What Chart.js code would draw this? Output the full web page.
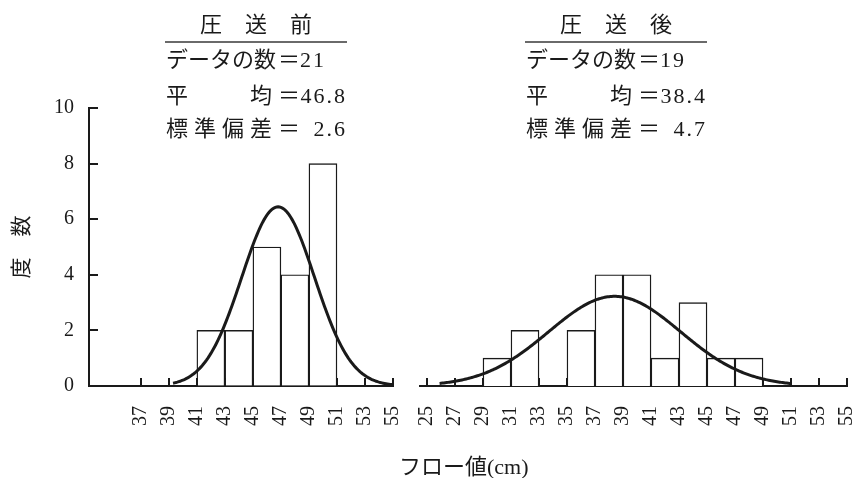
<!DOCTYPE html>
<html lang="ja">
<head>
<meta charset="utf-8">
<title>フロー値の度数分布（圧送前・圧送後）</title>
<script src="https://cdn.jsdelivr.net/npm/chart.js@4.4.1/dist/chart.umd.min.js"></script>
<style>
  html, body { margin: 0; padding: 0; background: #fff; }
  #page { position: relative; width: 856px; height: 478px; overflow: hidden; background: #fff; color: #1a1a1a; }
  .plot { position: absolute; top: 0; height: 478px; }
  .txt { position: absolute; height: 30px; line-height: 30px; white-space: nowrap;
         font-family: 'Liberation Serif', 'Noto Sans CJK JP', serif; font-size: 22px; color: #1a1a1a; }
  .spread { display: flex; justify-content: space-between; }
  .rule { position: absolute; height: 1.5px; background: #6a6a6a; }
  .num { letter-spacing: 2px; }
</style>
</head>
<body>
<div id="page">
  <div class="plot" style="left:0;width:410px"><canvas id="before"></canvas></div>
  <div class="plot" style="left:410px;width:446px"><canvas id="after"></canvas></div>
  <div id="xtitle" class="txt" style="left:399px;top:452px;font-size:22px">フロー値(cm)</div>
</div>
<script>
// 度数分布（階級幅 2 cm）
const binWidth = 2;

// 圧送前
const beforeBinStarts = [41, 43, 45, 47, 49];
const beforeCounts = [2, 2, 5, 4, 8];
const beforeTicks = [37, 39, 41, 43, 45, 47, 49, 51, 53, 55];
const beforeN = 21;
const beforeMean = 46.8;
const beforeSd = 2.6;
const beforeCurveRange = [39.3, 55];

// 圧送後
const afterBinStarts = [29, 31, 35, 37, 39, 41, 43, 45, 47];
const afterCounts = [1, 2, 2, 4, 4, 1, 3, 1, 1];
const afterTicks = [25, 27, 29, 31, 33, 35, 37, 39, 41, 43, 45, 47, 49, 51, 53, 55];
const afterN = 19;
const afterMean = 38.4;
const afterSd = 4.7;
const afterCurveRange = [25.9, 51];

const yTicks = [0, 2, 4, 6, 8, 10];
const panelTitles = ['圧送前', '圧送後'];
const statLabels = ['データの数', '平均', '標準偏差'];

const ink = '#1a1a1a';
const serif = "'Liberation Serif', 'Noto Sans CJK JP', serif";

// fitted normal curve, scaled to counts per bin
function normalCurve(n, mean, sd, range) {
  const pts = [];
  const peak = n * binWidth / (sd * Math.sqrt(2 * Math.PI));
  for (let x = range[0]; x <= range[1] + 1e-9; x += 0.1) {
    const z = (x - mean) / sd;
    pts.push({ x: +x.toFixed(2), y: peak * Math.exp(-0.5 * z * z) });
  }
  return pts;
}

function bars(starts, counts) {
  return starts.map((s, i) => ({ x: s + binWidth / 2, y: counts[i] }));
}

// short tick marks pointing into the plot
const innerTicks = {
  id: 'innerTicks',
  afterDraw(chart) {
    const ctx = chart.ctx;
    ctx.save();
    ctx.strokeStyle = ink;
    ctx.lineWidth = 2;
    const xs = chart.scales.x;
    xs.ticks.forEach(t => {
      const px = Math.round(xs.getPixelForValue(t.value));
      ctx.beginPath();
      ctx.moveTo(px, xs.top);
      ctx.lineTo(px, xs.top - 8);
      ctx.stroke();
    });
    const ys = chart.scales.y;
    if (ys.options.display) {
      ys.ticks.forEach(t => {
        const py = Math.round(ys.getPixelForValue(t.value));
        ctx.beginPath();
        ctx.moveTo(ys.right, py);
        ctx.lineTo(ys.right + 9, py);
        ctx.stroke();
      });
    }
    ctx.restore();
  }
};

function makeChart(id, opts) {
  return new Chart(document.getElementById(id), {
    data: {
      datasets: [
        {
          type: 'line',
          data: opts.curve,
          borderColor: ink,
          borderWidth: 3,
          pointRadius: 0,
          tension: 0,
          order: 0
        },
        {
          type: 'bar',
          data: opts.bars,
          backgroundColor: '#ffffff',
          borderColor: ink,
          borderWidth: 1.4,
          barPercentage: 1,
          categoryPercentage: 1,
          order: 1
        }
      ]
    },
    options: {
      responsive: true,
      maintainAspectRatio: false,
      animation: false,
      events: [],
      layout: { padding: opts.padding },
      plugins: { legend: { display: false }, tooltip: { enabled: false } },
      scales: {
        x: {
          type: 'linear',
          offset: false,
          min: opts.xMin,
          max: opts.xMax,
          afterBuildTicks: s => { s.ticks = opts.ticks.map(v => ({ value: v })); },
          afterFit: s => { s.height = 92; s.paddingLeft = 0; s.paddingRight = 0; },
          grid: { display: true, offset: false, drawOnChartArea: false, drawTicks: false },
          border: { display: true, color: ink, width: 2 },
          ticks: {
            autoSkip: false,
            minRotation: 90,
            maxRotation: 90,
            padding: 20,
            color: ink,
            font: { family: serif, size: 20 }
          }
        },
        y: {
          display: opts.showY,
          min: 0,
          max: 10,
          afterBuildTicks: s => { s.ticks = yTicks.map(v => ({ value: v })); },
          afterFit: s => { s.width = opts.showY ? 89 : 0; s.paddingTop = 0; s.paddingBottom = 0; },
          grid: { display: true, drawOnChartArea: false, drawTicks: false },
          border: { display: true, color: ink, width: 2 },
          ticks: {
            padding: 15,
            color: ink,
            font: { family: serif, size: 20 }
          },
          title: {
            display: true,
            text: '度　数',
            color: ink,
            font: { family: "'Noto Sans CJK JP', sans-serif", size: 21 },
            padding: { top: 7, bottom: 0 }
          }
        }
      }
    },
    plugins: [innerTicks]
  });
}

makeChart('before', {
  curve: normalCurve(beforeN, beforeMean, beforeSd, beforeCurveRange),
  bars: bars(beforeBinStarts, beforeCounts),
  ticks: beforeTicks,
  xMin: 33.3, xMax: 55,
  showY: true,
  padding: { left: 0, right: 17, top: 108, bottom: 0 }
});

makeChart('after', {
  curve: normalCurve(afterN, afterMean, afterSd, afterCurveRange),
  bars: bars(afterBinStarts, afterCounts),
  ticks: afterTicks,
  xMin: 24.5, xMax: 55,
  showY: false,
  padding: { left: 10, right: 9, top: 108, bottom: 0 }
});

// summary blocks above each histogram
const page = document.getElementById('page');
function el(cls, style, html) {
  const d = document.createElement('div');
  d.className = cls;
  d.setAttribute('style', style);
  if (html !== undefined) d.innerHTML = html;
  page.appendChild(d);
  return d;
}
function spreadChars(text) {
  return [...text].map(c => '<span>' + c + '</span>').join('');
}
function statBlock(x0, title, n, mean, sd) {
  el('txt spread', `left:${x0 + 34}px;top:10px;width:112px`, spreadChars(title));
  el('rule', `left:${x0 - 1}px;top:41px;width:182px`);
  const rows = [
    { label: statLabels[0], value: String(n), align: 'left', top: 45 },
    { label: statLabels[1], value: mean.toFixed(1), align: 'right', top: 81 },
    { label: statLabels[2], value: sd.toFixed(1), align: 'right', top: 114 }
  ];
  rows.forEach((r, i) => {
    el('txt spread', `left:${x0}px;top:${r.top}px;width:${i === 0 ? 110 : 106}px`, spreadChars(r.label));
    el('txt', `left:${x0 + 112}px;top:${r.top}px`, '＝');
    el('txt num', `left:${x0 + 134}px;top:${r.top}px;width:47px;text-align:${r.align}`, r.value);
  });
}
statBlock(166, panelTitles[0], beforeN, beforeMean, beforeSd);
statBlock(526, panelTitles[1], afterN, afterMean, afterSd);
</script>
</body>
</html>
